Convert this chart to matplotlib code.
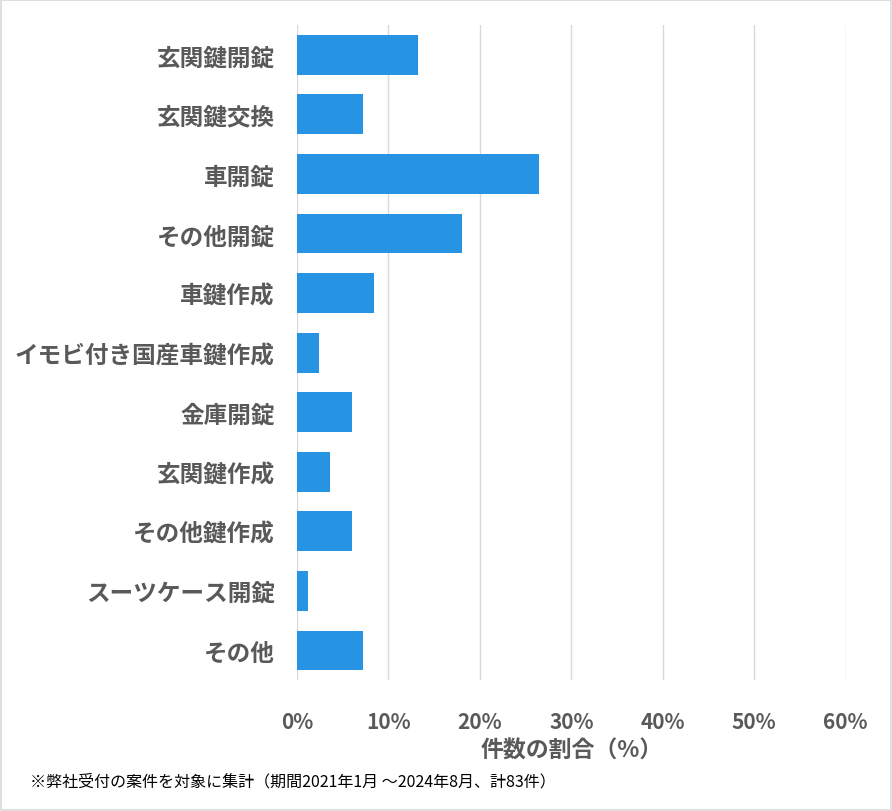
import numpy as np
import matplotlib.pyplot as plt
from matplotlib.ticker import FuncFormatter

plt.rcParams['font.family'] = ['Noto Sans CJK JP', 'DejaVu Sans']

# Categories and case counts (total 83 cases)
categories = ['玄関鍵開錠', '玄関鍵交換', '車開錠', 'その他開錠', '車鍵作成',
              'イモビ付き国産車鍵作成', '金庫開錠', '玄関鍵作成', 'その他鍵作成',
              'スーツケース開錠', 'その他']
counts = [11, 6, 22, 15, 7, 2, 5, 3, 5, 1, 6]
total = 83
shares = [c / total for c in counts]
x_ticks = [0, 0.1, 0.2, 0.3, 0.4, 0.5, 0.6]

text_color = '#595959'

fig = plt.figure(figsize=(8.92, 8.12), dpi=100)
ax = fig.add_axes([0.333, 0.161, 0.615, 0.807])

y = np.arange(len(categories))
ax.barh(y, shares, height=0.67, color='#2794E3', zorder=3)

ax.set_ylim(len(categories) - 0.5, -0.5)
ax.set_xlim(0, 0.6)
ax.set_xticks(x_ticks)
ax.xaxis.set_major_formatter(FuncFormatter(lambda v, p: f'{v * 100:.0f}%'))
ax.set_yticks(y)
ax.set_yticklabels(categories)

ax.grid(axis='x', color='#D9D9D9', linewidth=1, zorder=0)
for s in ax.spines.values():
    s.set_visible(False)
ax.tick_params(length=0)
ax.tick_params(axis='x', pad=22, labelsize=15, labelcolor=text_color)
ax.tick_params(axis='y', pad=16, labelsize=17, labelcolor=text_color)
for lab in ax.get_xticklabels() + ax.get_yticklabels():
    lab.set_fontweight('bold')

ax.set_xlabel('件数の割合（%）', fontsize=16.5, fontweight='bold', color=text_color, labelpad=5)

fig.text(0.034, 0.032, '※弊社受付の案件を対象に集計（期間2021年1月 ～2024年8月、計83件）',
         fontsize=11.5, color='#000000')

# Outer border
fig.patches.append(plt.Rectangle((0.001, 0.001), 0.998, 0.998, transform=fig.transFigure,
                                 fill=False, edgecolor='#D9D9D9', linewidth=1.2))

plt.savefig('out.png', dpi=100)
